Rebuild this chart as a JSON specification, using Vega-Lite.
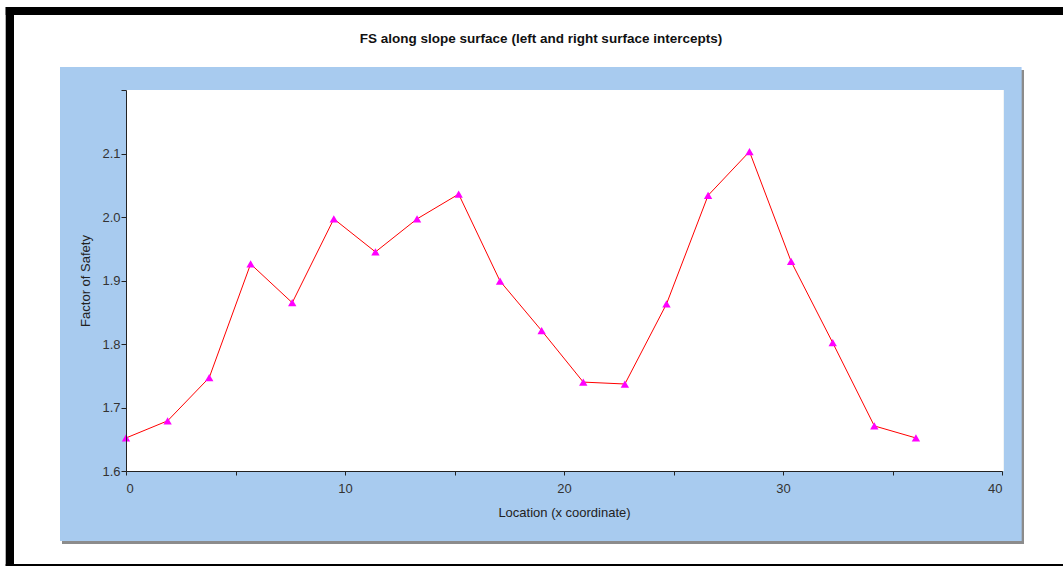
{
  "$schema": "https://vega.github.io/schema/vega-lite/v6.json",
  "width": 876,
  "height": 381,
  "autosize": {"type": "none"},
  "padding": {"left": 126, "top": 90, "right": 61, "bottom": 96},
  "background": "white",
  "config": {"view": {"stroke": null, "fill": "white"}},
  "title": {
    "text": "FS along slope surface (left and right surface intercepts)",
    "font": "Liberation Sans",
    "fontSize": 13.5,
    "fontWeight": "bold",
    "color": "#111111",
    "baseline": "alphabetic",
    "offset": -49,
    "dx": -23
  },
  "data": {
    "values": [
      {"x": 0, "fs": 1.652},
      {"x": 1.9, "fs": 1.679},
      {"x": 3.8, "fs": 1.747},
      {"x": 5.69, "fs": 1.926},
      {"x": 7.59, "fs": 1.865},
      {"x": 9.49, "fs": 1.997},
      {"x": 11.39, "fs": 1.945},
      {"x": 13.29, "fs": 1.997},
      {"x": 15.19, "fs": 2.036},
      {"x": 17.08, "fs": 1.899},
      {"x": 18.98, "fs": 1.821},
      {"x": 20.88, "fs": 1.740},
      {"x": 22.78, "fs": 1.737},
      {"x": 24.68, "fs": 1.863},
      {"x": 26.58, "fs": 2.034},
      {"x": 28.47, "fs": 2.103},
      {"x": 30.37, "fs": 1.930},
      {"x": 32.27, "fs": 1.802},
      {"x": 34.17, "fs": 1.671},
      {"x": 36.07, "fs": 1.652}
    ]
  },
  "layer": [
    {
      "mark": {"type": "rect", "color": "#8c8c8c", "clip": false},
      "encoding": {
        "x": {"datum": -2.9, "type": "quantitative", "scale": {"domain": [0, 40]}},
        "x2": {"datum": 41.0},
        "y": {"datum": 2.231, "type": "quantitative", "scale": {"domain": [1.6, 2.2]}},
        "y2": {"datum": 1.485}
      }
    },
    {
      "mark": {"type": "rect", "color": "#a8cbef", "clip": false},
      "encoding": {
        "x": {"datum": -3.01, "type": "quantitative"},
        "x2": {"datum": 40.87},
        "y": {"datum": 2.236, "type": "quantitative"},
        "y2": {"datum": 1.4898}
      }
    },
    {
      "mark": {"type": "rect", "color": "white", "clip": false},
      "encoding": {
        "x": {"datum": 0, "type": "quantitative"},
        "x2": {"datum": 40.05},
        "y": {"datum": 1.6, "type": "quantitative"},
        "y2": {"datum": 2.2}
      }
    },
    {
      "mark": {"type": "rect", "color": "black", "clip": false},
      "encoding": {
        "x": {"datum": -5.48, "type": "quantitative"},
        "x2": {"datum": 42.8},
        "y": {"datum": 2.3307, "type": "quantitative"},
        "y2": {"datum": 2.318}
      }
    },
    {
      "mark": {"type": "rect", "color": "black", "clip": false},
      "encoding": {
        "x": {"datum": -5.48, "type": "quantitative"},
        "x2": {"datum": -5.114},
        "y": {"datum": 2.3307, "type": "quantitative"},
        "y2": {"datum": 1.4504}
      }
    },
    {
      "mark": {"type": "rect", "color": "black", "clip": false},
      "encoding": {
        "x": {"datum": -5.48, "type": "quantitative"},
        "x2": {"datum": 42.8},
        "y": {"datum": 1.4535, "type": "quantitative"},
        "y2": {"datum": 1.4504}
      }
    },
    {
      "mark": {"type": "line", "color": "#ff0000", "strokeWidth": 1},
      "encoding": {
        "x": {
          "field": "x",
          "type": "quantitative",
          "scale": {"domain": [0, 40], "nice": false, "zero": false},
          "axis": {
            "zindex": 1,
            "title": "Location (x coordinate)",
            "values": [0, 5, 10, 15, 20, 25, 30, 35, 40],
            "labelExpr": "datum.value % 10 == 0 ? datum.label : ''",
            "grid": false,
            "domainColor": "#222222",
            "tickColor": "#222222",
            "tickSize": 4,
            "labelPadding": 7,
            "labelFont": "Liberation Sans",
            "labelFontSize": 13,
            "labelColor": "#333333",
            "titleFont": "Liberation Sans",
            "titleFontSize": 13,
            "titleFontWeight": "normal",
            "titleColor": "#222222",
            "titlePadding": 11
          }
        },
        "y": {
          "field": "fs",
          "type": "quantitative",
          "scale": {"domain": [1.6, 2.2], "nice": false, "zero": false},
          "axis": {
            "zindex": 1,
            "title": "Factor of Safety",
            "values": [1.6, 1.65, 1.7, 1.75, 1.8, 1.85, 1.9, 1.95, 2.0, 2.05, 2.1, 2.15, 2.2],
            "labelExpr": "(abs(datum.value * 10 - round(datum.value * 10)) < 0.001 && datum.value < 2.15) ? format(datum.value, '.1f') : ''",
            "grid": false,
            "domainColor": "#222222",
            "tickColor": "#222222",
            "tickSize": 5,
            "labelPadding": 1,
            "labelFont": "Liberation Sans",
            "labelFontSize": 13,
            "labelColor": "#333333",
            "titleFont": "Liberation Sans",
            "titleFontSize": 13,
            "titleFontWeight": "normal",
            "titleColor": "#222222",
            "titlePadding": 9
          }
        }
      }
    },
    {
      "mark": {"type": "point", "shape": "triangle-up", "filled": true, "color": "#ff00ff", "opacity": 1, "size": 70},
      "encoding": {
        "x": {"field": "x", "type": "quantitative"},
        "y": {"field": "fs", "type": "quantitative"}
      }
    }
  ]
}
